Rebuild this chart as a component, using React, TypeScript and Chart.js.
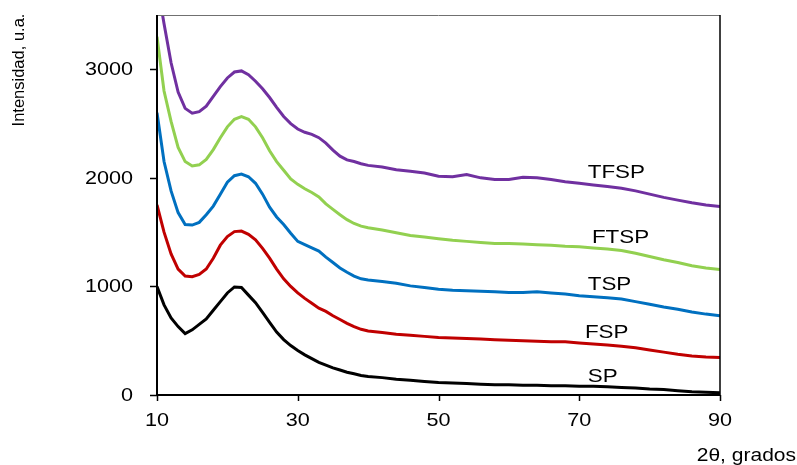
import React, { useEffect, useRef } from "react";
import { Chart, registerables } from "chart.js";

Chart.register(...registerables);

const angles = [
  10, 11, 12, 13, 14, 15, 16, 17, 18, 19, 20, 21, 22, 23, 24, 25, 26, 27, 28, 29, 30,
  31, 32, 33, 34, 35, 36, 37, 38, 39, 40, 42, 44, 46, 48, 50, 52, 54, 56, 58, 60,
  62, 64, 66, 68, 70, 72, 74, 76, 78, 80, 82, 84, 86, 88, 90,
];

const SP = [
  1000, 830, 710, 630, 565, 600, 650, 700, 780, 860, 940, 995, 990, 920, 850, 760, 670, 580, 510, 455, 410,
  370, 335, 300, 275, 250, 230, 210, 195, 180, 170, 160, 145, 135, 125, 115, 110, 105, 100, 95, 95,
  90, 90, 85, 85, 80, 80, 75, 70, 65, 55, 50, 40, 30, 25, 20,
];

const FSP = [
  1750, 1500, 1300, 1160, 1095, 1090, 1110, 1160, 1260, 1380, 1460, 1505, 1510, 1480, 1430, 1350, 1260, 1160, 1070, 1000, 940,
  890, 845, 800, 770, 730, 695, 660, 630, 605, 590, 575, 560, 550, 540, 530, 525, 520, 515, 510, 505,
  500, 495, 490, 490, 480, 470, 460, 450, 435, 415, 395, 375, 360, 350, 345,
];

const TSP = [
  2600, 2150, 1880, 1680, 1570, 1565, 1590, 1660, 1740, 1850, 1960, 2020, 2035, 2010, 1950, 1850, 1730, 1640, 1570, 1490, 1415,
  1385, 1355, 1325, 1270, 1220, 1170, 1130, 1095, 1070, 1060, 1045, 1030, 1005, 990, 975, 965, 960, 955, 950, 945,
  945, 950, 940, 930, 915, 905, 895, 885, 860, 835, 810, 790, 765, 745, 730,
];

const FTSP = [
  3300, 2800, 2520, 2280, 2150, 2110, 2120, 2170, 2260, 2370, 2470, 2540, 2565, 2540, 2470, 2370, 2250, 2150, 2070, 1990, 1940,
  1900, 1865, 1825, 1760, 1710, 1660, 1615, 1580, 1555, 1540, 1520, 1495, 1470, 1455, 1440, 1425, 1415, 1405, 1395, 1395,
  1390, 1385, 1380, 1370, 1365, 1355, 1345, 1330, 1305, 1275, 1245, 1220, 1190, 1170, 1155,
];

const TFSP = [
  3800, 3420, 3060, 2790, 2640, 2595, 2610, 2660, 2750, 2840, 2920, 2975, 2985, 2950, 2890, 2820, 2740, 2650, 2565, 2500, 2450,
  2420, 2400, 2370, 2320, 2255, 2200, 2165, 2150, 2130, 2115, 2100, 2075, 2060, 2045, 2015, 2010, 2030, 2000, 1985, 1985,
  2005, 2000, 1985, 1965, 1950, 1935, 1920, 1905, 1880, 1850, 1820, 1795, 1770, 1750, 1735,
];

const seriesNames = ["SP", "FSP", "TSP", "FTSP", "TFSP"];
const seriesColors = ["#000000", "#C00000", "#0070C0", "#92D050", "#7030A0"];
const seriesValues = [SP, FSP, TSP, FTSP, TFSP];

// series label anchors (data coordinates)
const labelX = [71.2, 70.8, 71.2, 71.8, 71.2];
const labelY = [166, 572, 1015, 1450, 2050];

const xTicks = [10, 30, 50, 70, 90];
const yTicks = [0, 1000, 2000, 3000];
const xTitle = "2θ, grados";
const yTitle = "Intensidad, u.a.";

const FONT = '"Liberation Sans", Arial, sans-serif';
const STRETCH = 1.2;

function stretchedText(ctx: CanvasRenderingContext2D, text: string, x: number, y: number, align: CanvasTextAlign, sx: number) {
  ctx.save();
  ctx.translate(x, y);
  ctx.scale(sx, 1);
  ctx.textAlign = align;
  ctx.textBaseline = "middle";
  ctx.fillText(text, 0, 0);
  ctx.restore();
}

const framePlugin = {
  id: "framePlugin",
  afterDraw(chart: any) {
    const ctx: CanvasRenderingContext2D = chart.ctx;
    const { left, right, top, bottom } = chart.chartArea;
    const xs = chart.scales.x;
    const ys = chart.scales.y;
    ctx.save();
    // top border (gray)
    ctx.strokeStyle = "#707070";
    ctx.lineWidth = 1;
    ctx.beginPath();
    ctx.moveTo(left, top + 0.5);
    ctx.lineTo(right, top + 0.5);
    ctx.stroke();
    // right border
    ctx.strokeStyle = "#000";
    ctx.lineWidth = 1.5;
    ctx.beginPath();
    ctx.moveTo(right, top);
    ctx.lineTo(right, bottom);
    ctx.stroke();
    // left and bottom axes
    ctx.lineWidth = 2;
    ctx.beginPath();
    ctx.moveTo(left, top);
    ctx.lineTo(left, bottom);
    ctx.lineTo(right, bottom);
    ctx.stroke();
    // tick marks
    ctx.lineWidth = 1.5;
    ctx.beginPath();
    for (const v of xTicks) {
      const px = Math.round(xs.getPixelForValue(v)) + 0.5;
      ctx.moveTo(px, bottom);
      ctx.lineTo(px, bottom + 6);
    }
    for (const v of yTicks) {
      const py = Math.round(ys.getPixelForValue(v)) + 0.5;
      ctx.moveTo(left - 7, py);
      ctx.lineTo(left, py);
    }
    ctx.stroke();
    // tick labels
    ctx.fillStyle = "#000";
    ctx.font = `18px ${FONT}`;
    for (const v of xTicks) {
      stretchedText(ctx, String(v), xs.getPixelForValue(v), bottom + 26, "center", STRETCH);
    }
    for (const v of yTicks) {
      stretchedText(ctx, String(v), left - 24, ys.getPixelForValue(v) + 1, "right", STRETCH);
    }
    // series labels
    ctx.font = `19px ${FONT}`;
    for (let i = 0; i < seriesNames.length; i++) {
      stretchedText(ctx, seriesNames[i], xs.getPixelForValue(labelX[i]), ys.getPixelForValue(labelY[i]), "left", 1.18);
    }
    // axis titles
    ctx.font = `17.5px ${FONT}`;
    stretchedText(ctx, xTitle, 796, 456, "right", 1.2);
    ctx.save();
    ctx.translate(19, 70);
    ctx.rotate(-Math.PI / 2);
    ctx.textAlign = "center";
    ctx.textBaseline = "middle";
    ctx.font = `16.5px ${FONT}`;
    ctx.fillText(yTitle, 0, 0);
    ctx.restore();
    ctx.restore();
  },
};

export default function App() {
  const canvasRef = useRef<HTMLCanvasElement | null>(null);

  useEffect(() => {
    const canvas = canvasRef.current;
    if (!canvas) return;
    const datasets = seriesNames.map((name, i) => ({
      label: name,
      data: angles.map((a, j) => ({ x: a, y: seriesValues[i][j] })),
      borderColor: seriesColors[i],
      backgroundColor: seriesColors[i],
      borderWidth: 3,
      pointRadius: 0,
      tension: 0,
      fill: false,
    }));
    const chart = new Chart(canvas, {
      type: "line",
      data: { datasets },
      options: {
        animation: false,
        responsive: false,
        devicePixelRatio: 1,
        layout: { padding: { left: 0, top: 15, right: 77, bottom: 0 } },
        plugins: { legend: { display: false }, tooltip: { enabled: false } },
        scales: {
          x: {
            type: "linear",
            min: 10,
            max: 90,
            grid: { display: false },
            border: { display: false },
            ticks: { display: false },
            afterFit: (s: any) => {
              s.height = 70;
            },
          },
          y: {
            type: "linear",
            min: 0,
            max: 3500,
            grid: { display: false },
            border: { display: false },
            ticks: { display: false },
            afterFit: (s: any) => {
              s.width = 157;
            },
          },
        },
      },
      plugins: [framePlugin],
    });
    return () => chart.destroy();
  }, []);

  return (
    <div style={{ position: "fixed", left: 0, top: 0, width: 797, height: 465, background: "#fff" }}>
      <canvas ref={canvasRef} width={797} height={465} style={{ display: "block" }} />
    </div>
  );
}
